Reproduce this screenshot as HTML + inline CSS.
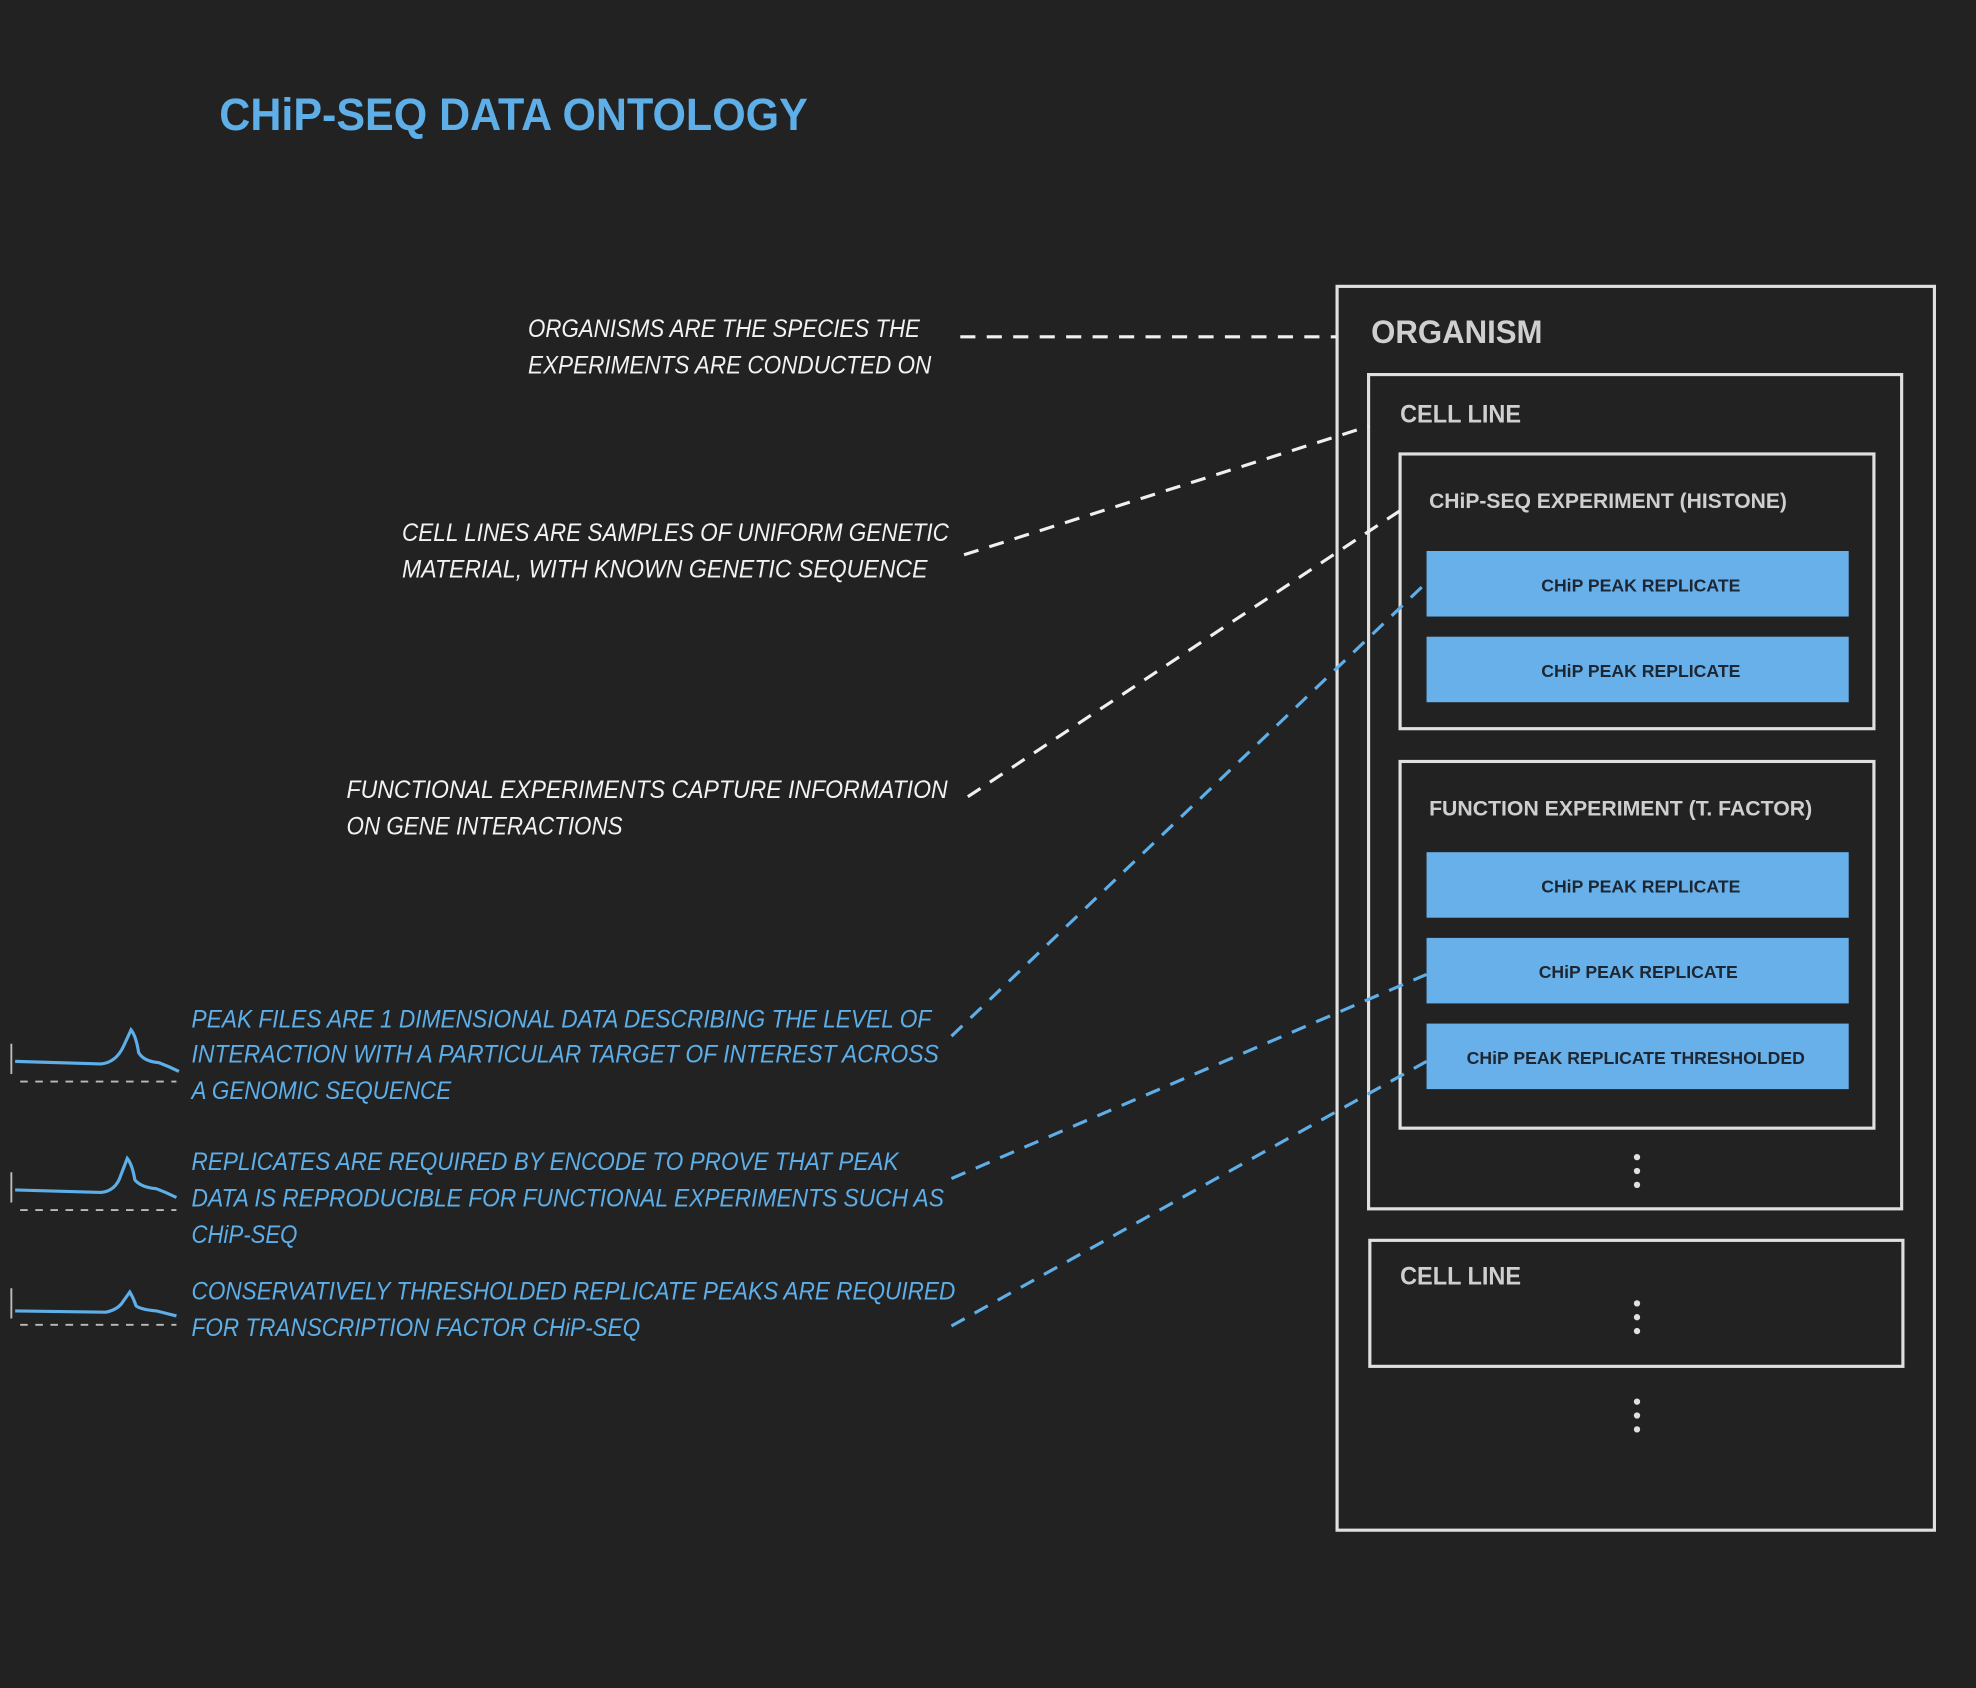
<!DOCTYPE html>
<html><head><meta charset="utf-8"><style>
html,body{margin:0;padding:0;background:#222222;}
svg{display:block}
text{font-family:"Liberation Sans",sans-serif;}
.ann{font-style:italic;font-size:20px;fill:#f2f2f2;}
.annb{font-style:italic;font-size:20px;fill:#5eaee8;}
.bt{font-size:14px;font-weight:bold;fill:#1d2733;}
</style></head><body>
<svg width="1976" height="1688" viewBox="0 0 1568 1339" xmlns="http://www.w3.org/2000/svg">
<rect width="1568" height="1339" fill="#222222"/>
<text x="174" y="103" font-size="36" font-weight="bold" fill="#5eaee8" textLength="467" lengthAdjust="spacingAndGlyphs">CHiP-SEQ DATA ONTOLOGY</text>

<g fill="none" stroke="#e0e0e0" stroke-width="2.5">
<rect x="1061" y="227" width="474" height="987"/>
<rect x="1086" y="297" width="423" height="662"/>
<rect x="1111" y="360" width="376" height="218"/>
<rect x="1111" y="604" width="376" height="291"/>
<rect x="1087" y="984" width="423" height="100"/>
</g>
<text x="1088" y="272" font-size="26" font-weight="bold" fill="#cfcfcf" textLength="136" lengthAdjust="spacingAndGlyphs">ORGANISM</text>
<text x="1111" y="335" font-size="20" font-weight="bold" fill="#cfcfcf" textLength="96" lengthAdjust="spacingAndGlyphs">CELL LINE</text>
<text x="1111" y="1019" font-size="20" font-weight="bold" fill="#cfcfcf" textLength="96" lengthAdjust="spacingAndGlyphs">CELL LINE</text>
<text x="1134" y="403" font-size="17" font-weight="bold" fill="#cfcfcf" textLength="284" lengthAdjust="spacingAndGlyphs">CHiP-SEQ EXPERIMENT (HISTONE)</text>
<text x="1134" y="647" font-size="17" font-weight="bold" fill="#cfcfcf" textLength="304" lengthAdjust="spacingAndGlyphs">FUNCTION EXPERIMENT (T. FACTOR)</text>

<g fill="#68b0ea">
<rect x="1132" y="437" width="335" height="52"/>
<rect x="1132" y="505" width="335" height="52"/>
<rect x="1132" y="676" width="335" height="52"/>
<rect x="1132" y="744" width="335" height="52"/>
<rect x="1132" y="812" width="335" height="52"/>
</g>
<g text-anchor="middle">
<text class="bt" x="1302" y="469">CHiP PEAK REPLICATE</text>
<text class="bt" x="1302" y="537">CHiP PEAK REPLICATE</text>
<text class="bt" x="1302" y="708">CHiP PEAK REPLICATE</text>
<text class="bt" x="1300" y="776">CHiP PEAK REPLICATE</text>
<text class="bt" x="1298" y="844">CHiP PEAK REPLICATE THRESHOLDED</text>
</g>
<g fill="#e0e0e0">
<circle cx="1299" cy="918" r="2.5"/><circle cx="1299" cy="929" r="2.5"/><circle cx="1299" cy="940" r="2.5"/>
<circle cx="1299" cy="1034" r="2.5"/><circle cx="1299" cy="1045" r="2.5"/><circle cx="1299" cy="1056" r="2.5"/>
<circle cx="1299" cy="1112" r="2.5"/><circle cx="1299" cy="1123" r="2.5"/><circle cx="1299" cy="1134" r="2.5"/>
</g>

<g fill="none" stroke-width="2.5" stroke-dasharray="12,9">
<line x1="762" y1="267" x2="1060" y2="267" stroke="#f0f0f0"/>
<line x1="765" y1="440" x2="1086" y2="338" stroke="#f0f0f0"/>
<line x1="768" y1="632" x2="1111" y2="405" stroke="#f0f0f0"/>
<line x1="755" y1="822" x2="1132" y2="462" stroke="#5eaee8"/>
<line x1="755" y1="935" x2="1132" y2="773" stroke="#5eaee8"/>
<line x1="755" y1="1052" x2="1132" y2="842" stroke="#5eaee8"/>
</g>

<text class="ann" x="419" y="267" textLength="311" lengthAdjust="spacingAndGlyphs">ORGANISMS ARE THE SPECIES THE</text>
<text class="ann" x="419" y="296" textLength="320" lengthAdjust="spacingAndGlyphs">EXPERIMENTS ARE CONDUCTED ON</text>
<text class="ann" x="319" y="429" textLength="434" lengthAdjust="spacingAndGlyphs">CELL LINES ARE SAMPLES OF UNIFORM GENETIC</text>
<text class="ann" x="319" y="458" textLength="417" lengthAdjust="spacingAndGlyphs">MATERIAL, WITH KNOWN GENETIC SEQUENCE</text>
<text class="ann" x="275" y="633" textLength="477" lengthAdjust="spacingAndGlyphs">FUNCTIONAL EXPERIMENTS CAPTURE INFORMATION</text>
<text class="ann" x="275" y="662" textLength="219" lengthAdjust="spacingAndGlyphs">ON GENE INTERACTIONS</text>

<text class="annb" x="152" y="815" textLength="587" lengthAdjust="spacingAndGlyphs">PEAK FILES ARE 1 DIMENSIONAL DATA DESCRIBING THE LEVEL OF</text>
<text class="annb" x="152" y="843" textLength="593" lengthAdjust="spacingAndGlyphs">INTERACTION WITH A PARTICULAR TARGET OF INTEREST ACROSS</text>
<text class="annb" x="152" y="872" textLength="206" lengthAdjust="spacingAndGlyphs">A GENOMIC SEQUENCE</text>
<text class="annb" x="152" y="928" textLength="561" lengthAdjust="spacingAndGlyphs">REPLICATES ARE REQUIRED BY ENCODE TO PROVE THAT PEAK</text>
<text class="annb" x="152" y="957" textLength="597" lengthAdjust="spacingAndGlyphs">DATA IS REPRODUCIBLE FOR FUNCTIONAL EXPERIMENTS SUCH AS</text>
<text class="annb" x="152" y="986" textLength="84" lengthAdjust="spacingAndGlyphs">CHiP-SEQ</text>
<text class="annb" x="152" y="1031" textLength="606" lengthAdjust="spacingAndGlyphs">CONSERVATIVELY THRESHOLDED REPLICATE PEAKS ARE REQUIRED</text>
<text class="annb" x="152" y="1060" textLength="356" lengthAdjust="spacingAndGlyphs">FOR TRANSCRIPTION FACTOR CHiP-SEQ</text>

<g fill="none" stroke="#5eaee8" stroke-width="2.5">
<path d="M12 842 L80 844 Q92 843 98 830 L104 817 Q108 822 110 835 Q114 842 126 843 Q134 846 142 850"/>
<path d="M12 944 L80 946 Q92 945 96 932 L101 919 Q105 924 107 936 Q112 942 124 943 Q132 946 140 950"/>
<path d="M12 1040 L84 1041 Q94 1039 98 1032 L103 1025 Q106 1030 108 1036 Q112 1039 124 1040 Q132 1042 140 1044"/>
</g>
<g fill="none" stroke="#bbbbbb" stroke-width="1.5" stroke-dasharray="6,6">
<line x1="16" y1="858" x2="140" y2="858"/>
<line x1="16" y1="960" x2="140" y2="960"/>
<line x1="16" y1="1051" x2="140" y2="1051"/>
</g>
<g stroke="#bbbbbb" stroke-width="1.5">
<line x1="9" y1="828" x2="9" y2="852"/>
<line x1="9" y1="930" x2="9" y2="954"/>
<line x1="9" y1="1022" x2="9" y2="1046"/>
</g>
</svg>
</body></html>
